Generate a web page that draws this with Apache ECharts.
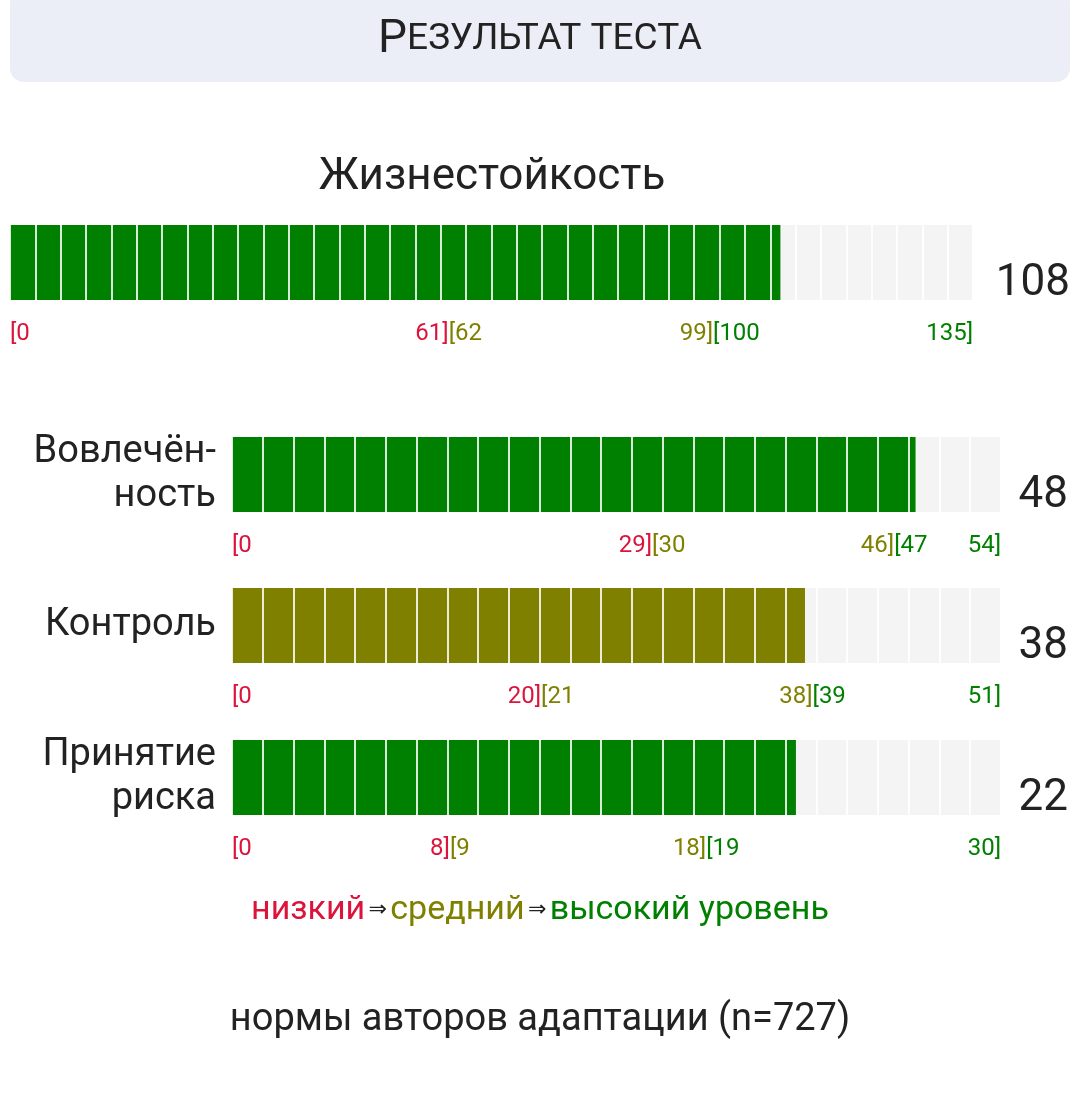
<!DOCTYPE html>
<html><head><meta charset="utf-8">
<script src="https://cdn.jsdelivr.net/npm/echarts@6/dist/echarts.min.js"></script>
<style>html,body{margin:0;background:#fff}#chart{width:1080px;height:1093px}</style>
</head><body><div id="chart"></div>
<script>
// шкалы
var names = ['Жизнестойкость', 'Вовлечён-\nность', 'Контроль', 'Принятие\nриска'];
var scores = [108, 48, 38, 22];
var maxes = [135, 54, 51, 30];
var segments = [38, 25, 25, 25];
var lowEnd = [61, 29, 20, 8];
var midEnd = [99, 46, 38, 18];
var levelColor = ['#008000', '#008000', '#808000', '#008000'];

var RED = '#dc143c', OLIVE = '#808000', GREEN = '#008000';
var chart = echarts.init(document.getElementById('chart'));

var grids = [], xAxes = [], yAxes = [], series = [], graphics = [];
var tops = [225, 437, 588, 740];
var lefts = [10, 232, 232, 232];
var rights = [107, 79, 79, 79];

for (var i = 0; i < scores.length; i++) {
  grids.push({left: lefts[i], right: rights[i], top: tops[i], height: 75});
  (function(i){
    xAxes.push({
      gridIndex: i, type: 'value', min: 0, max: maxes[i],
      interval: maxes[i] / segments[i], z: 10,
      axisLine: {show: false}, axisTick: {show: false},
      splitLine: {show: true, lineStyle: {color: 'rgba(255,255,255,0.85)', width: 2}},
      axisLabel: {
        customValues: [0, lowEnd[i] + 0.5, midEnd[i] + 0.5, maxes[i]],
        margin: 22, fontSize: 24, fontFamily: 'Roboto',
        alignMinLabel: 'left', alignMaxLabel: 'right',
        formatter: function (v) {
          if (v === 0) return '{r|[0}';
          if (v === maxes[i]) return '{g|' + maxes[i] + ']}';
          if (v === lowEnd[i] + 0.5) return '{r|' + lowEnd[i] + ']}{y|[' + (lowEnd[i] + 1) + '}';
          return '{y|' + midEnd[i] + ']}{g|[' + (midEnd[i] + 1) + '}';
        },
        rich: {
          r: {color: RED, fontSize: 24, fontFamily: 'Roboto'},
          y: {color: OLIVE, fontSize: 24, fontFamily: 'Roboto'},
          g: {color: GREEN, fontSize: 24, fontFamily: 'Roboto'}
        }
      }
    });
  })(i);
  yAxes.push({gridIndex: i, type: 'category', data: [names[i]], show: false});
  series.push({
    type: 'bar', xAxisIndex: i, yAxisIndex: i, data: [scores[i]],
    barWidth: 75, itemStyle: {color: levelColor[i]},
    showBackground: true, backgroundStyle: {color: '#f4f4f4'}, silent: true
  });
  graphics.push({
    type: 'text', right: i === 0 ? 10 : 12, top: tops[i] + 37, z: 20,
    style: {text: String(scores[i]), font: '44px Roboto', fill: '#222',
      textVerticalAlign: 'middle', textAlign: 'right'}
  });
  if (i > 0) {
    graphics.push({
      type: 'text', x: 216, y: tops[i] + 37, z: 20,
      style: {text: names[i], font: '38px Roboto', fill: '#222', lineHeight: 44,
        textAlign: 'right', textVerticalAlign: 'middle'}
    });
  }
}

graphics.push(
  {type: 'rect', shape: {x: 10, y: -10, width: 1060, height: 92, r: 14}, style: {fill: '#eceef7'}},
  {type: 'text', x: 540, y: 40, style: {
    text: '{b|Р}{s|ЕЗУЛЬТАТ ТЕСТА}', align: 'center', verticalAlign: 'middle',
    rich: {b: {fontSize: 46, fontFamily: 'Roboto', fill: '#222'},
           s: {fontSize: 37, fontFamily: 'Roboto', fill: '#222'}}}},
  {type: 'text', x: 492, y: 178, style: {text: names[0], font: '44px Roboto', fill: '#222',
    textAlign: 'center', textVerticalAlign: 'middle'}},
  {type: 'text', x: 540, y: 910, style: {
    text: '{r|низкий} {a|⇒} {y|средний} {a|⇒} {g|высокий уровень}',
    align: 'center', verticalAlign: 'middle',
    rich: {r: {fontSize: 34, fontFamily: 'Roboto', fill: RED},
           y: {fontSize: 34, fontFamily: 'Roboto', fill: OLIVE},
           g: {fontSize: 34, fontFamily: 'Roboto', fill: GREEN},
           a: {fontSize: 22, fontFamily: 'DejaVu Sans', fill: '#222'}}}},
  {type: 'text', x: 540, y: 1020, style: {text: 'нормы авторов адаптации (n=727)',
    font: '38px Roboto', fill: '#222', textAlign: 'center', textVerticalAlign: 'middle'}}
);

chart.setOption({
  animation: false,
  grid: grids, xAxis: xAxes, yAxis: yAxes, series: series, graphic: graphics
});
</script>
</body></html>
